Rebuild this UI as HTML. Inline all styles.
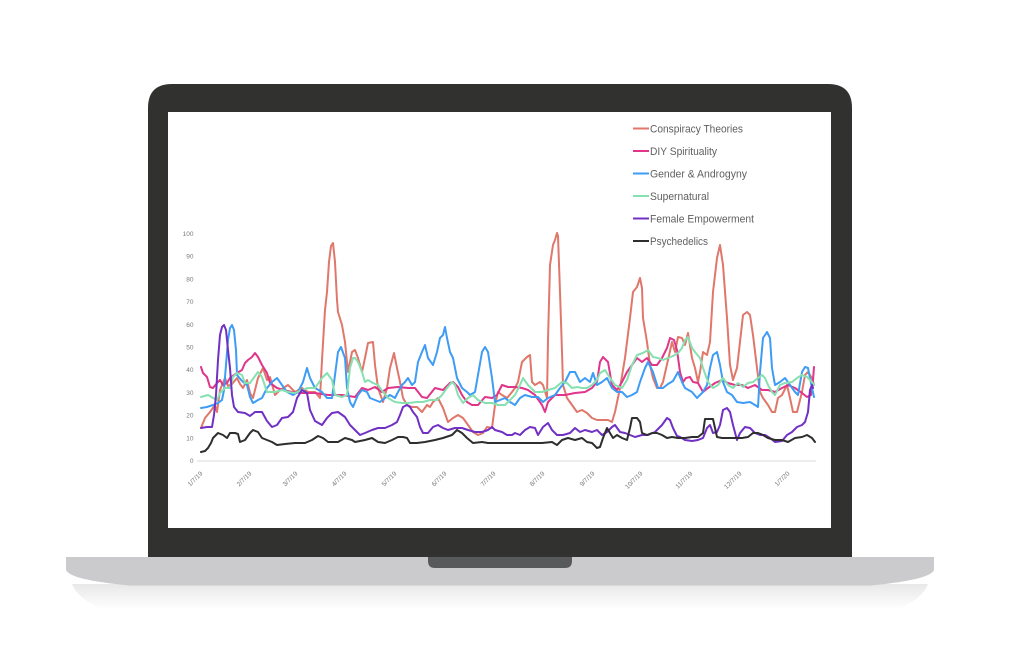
<!DOCTYPE html>
<html><head><meta charset="utf-8"><style>
html,body{margin:0;padding:0;background:#fff;width:1024px;height:648px;overflow:hidden}
svg{display:block}
text{font-family:"Liberation Sans",sans-serif}
</style></head><body>
<svg width="1024" height="648" viewBox="0 0 1024 648" xmlns="http://www.w3.org/2000/svg">
<defs>
<linearGradient id="sh" x1="0" y1="0" x2="0" y2="1"><stop offset="0" stop-color="#e8e8e8"/><stop offset="1" stop-color="#ffffff"/></linearGradient>
</defs>
<!-- shadow -->
<path d="M72,584 H928 Q922,600 895,610 H105 Q78,600 72,584 Z" fill="url(#sh)"/>
<!-- bezel -->
<path d="M148,557 V108 Q148,84 172,84 H828 Q852,84 852,108 V557 Z" fill="#31322f"/>
<rect x="168" y="112" width="663" height="416" fill="#ffffff"/>
<!-- base -->
<path d="M66,557 H934 V570 Q930,580 870,585.5 H130 Q70,580 66,570 Z" fill="#cbcbcd"/>
<path d="M428,557 H572 V561 Q572,568 565,568 H435 Q428,568 428,561 Z" fill="#58595b"/>

<!-- y labels -->
<g font-size="6.5" fill="#7a7a7a" text-anchor="end">
<text x="193.5" y="463">0</text>
<text x="193.5" y="440.3">10</text>
<text x="193.5" y="417.6">20</text>
<text x="193.5" y="394.9">30</text>
<text x="193.5" y="372.2">40</text>
<text x="193.5" y="349.5">50</text>
<text x="193.5" y="326.8">60</text>
<text x="193.5" y="304.1">70</text>
<text x="193.5" y="281.4">80</text>
<text x="193.5" y="258.7">90</text>
<text x="193.5" y="236">100</text>
</g>
<line x1="197" y1="461" x2="816" y2="461" stroke="#d9d9d9" stroke-width="1"/>
<!-- x labels -->
<g font-size="6.5" fill="#7a7a7a" text-anchor="end">
<text transform="translate(203,474) rotate(-45)">1/7/19</text>
<text transform="translate(252,474) rotate(-45)">2/7/19</text>
<text transform="translate(298,474) rotate(-45)">3/7/19</text>
<text transform="translate(347,474) rotate(-45)">4/7/19</text>
<text transform="translate(397,474) rotate(-45)">5/7/19</text>
<text transform="translate(447,474) rotate(-45)">6/7/19</text>
<text transform="translate(496,474) rotate(-45)">7/7/19</text>
<text transform="translate(545,474) rotate(-45)">8/7/19</text>
<text transform="translate(595,474) rotate(-45)">9/7/19</text>
<text transform="translate(643,474) rotate(-45)">10/7/19</text>
<text transform="translate(693,474) rotate(-45)">11/7/19</text>
<text transform="translate(742,474) rotate(-45)">12/7/19</text>
<text transform="translate(790,474) rotate(-45)">1/7/20</text>
</g>

<g fill="none" stroke-width="2" stroke-linejoin="round" stroke-linecap="round">
<polyline stroke="#e0776a" points="201,428 205,418 210,412 215,405 217,412 220,390 225,378 228,386 232,384 237,378 240,384 243,388 247,380 250,393 253,398 258,378 263,368 267,380 270,377 275,395 280,390 288,385 295,392 302,388 308,392 315,392 320,398 322,360 325,310 327,292 329,262 331,246 333,243 335,262 337,300 338,312 342,325 345,342 348,372 352,352 355,350 358,358 362,372 365,358 368,343 373,342 375,365 378,388 383,402 387,388 390,368 394,353 397,368 400,382 403,398 407,405 412,407 417,407 422,412 427,405 430,407 433,402 438,398 443,408 448,422 453,418 458,415 463,418 468,425 473,432 478,435 483,433 487,427 492,428 495,405 498,392 502,395 507,398 512,392 515,388 518,382 522,362 527,357 530,355 532,382 535,385 540,382 543,385 547,398 548,340 550,265 553,245 555,240 557,233 558,236 560,292 562,352 563,385 567,398 572,405 577,412 582,410 587,413 592,418 597,420 602,420 608,420 612,422 615,412 620,388 625,358 630,318 633,292 637,287 640,278 642,288 643,318 647,342 650,365 653,378 657,388 660,388 663,382 668,360 672,342 675,352 678,337 682,338 685,345 688,333 692,358 695,368 698,382 700,372 703,352 707,355 710,342 713,292 717,258 720,245 723,265 727,318 730,365 733,380 737,368 740,342 743,315 747,312 750,315 753,335 757,368 760,392 763,398 768,405 772,412 775,412 778,398 782,395 787,385 790,398 793,412 797,412 802,392 805,375 808,372 812,378 814,385"/>
<polyline stroke="#e0358a" points="201,367 203,373 207,377 210,387 213,388 217,383 220,380 223,385 227,383 230,378 237,373 242,370 245,363 248,360 252,357 255,353 258,357 262,365 267,373 270,383 277,388 283,390 292,392 302,393 315,393 328,395 342,395 355,397 362,388 368,390 375,387 382,392 388,388 398,387 408,388 415,388 422,397 427,398 435,388 443,390 450,383 453,382 458,387 462,395 467,402 472,405 478,405 485,397 492,398 497,395 502,385 508,387 515,387 522,388 528,390 535,395 542,405 545,412 548,402 555,395 565,395 575,393 585,392 592,388 597,382 600,362 603,357 608,362 612,385 617,390 622,382 627,372 632,365 637,358 642,362 647,358 652,365 657,365 662,358 667,348 670,338 674,340 677,350 680,372 683,382 686,378 690,377 693,382 698,383 703,392 708,388 715,383 722,380 728,383 735,385 742,385 748,388 755,385 762,390 768,390 775,392 782,388 788,385 795,388 802,393 807,397 811,395 813,380 814,367"/>
<polyline stroke="#3d9cf5" points="201,408 207,407 213,405 218,403 222,400 224,390 226,365 228,340 230,328 232,325 234,330 236,350 237,375 242,381 247,385 250,397 253,403 258,400 262,398 267,388 272,382 277,378 282,385 287,392 293,395 298,392 303,382 307,368 310,378 315,388 322,392 327,398 332,398 335,375 338,352 341,347 345,358 347,388 350,402 353,407 355,402 358,395 362,390 367,392 370,398 375,400 380,402 385,398 390,395 395,398 398,392 402,385 405,382 408,378 412,385 415,382 418,362 422,352 425,345 428,358 433,365 437,352 440,338 443,335 445,327 447,338 450,352 453,358 457,378 462,388 467,392 470,395 475,392 478,375 482,352 485,347 488,352 492,378 495,402 500,400 505,398 510,402 515,405 520,398 525,395 532,397 538,397 543,402 548,398 555,395 560,388 565,382 570,372 575,372 580,382 585,378 590,382 593,373 597,385 602,382 607,378 612,388 617,392 622,392 627,397 632,395 637,392 640,382 645,368 648,362 653,372 658,388 663,388 668,384 673,381 678,372 682,382 685,388 692,392 697,398 703,392 707,385 710,368 713,355 717,352 720,365 723,382 727,392 732,395 737,402 743,403 750,402 755,405 758,407 760,372 763,338 767,332 770,338 772,368 775,385 780,382 785,378 790,385 795,392 798,395 802,372 805,367 808,368 812,388 814,397"/>
<polyline stroke="#86e0b0" points="201,397 208,395 213,398 217,400 220,393 225,388 230,388 233,377 237,373 242,375 245,383 250,383 255,376 258,372 262,377 267,392 275,392 282,390 288,392 295,393 302,390 308,388 315,388 322,378 327,373 332,380 335,395 342,397 347,395 350,368 353,358 355,358 358,362 362,372 365,382 368,380 373,383 378,385 383,392 388,398 395,402 402,403 408,403 417,402 423,402 430,400 437,400 442,395 447,388 452,382 455,385 458,395 463,403 468,398 473,395 478,400 485,403 492,403 498,405 505,405 512,398 515,395 520,385 523,378 528,385 535,392 542,392 548,390 555,388 562,382 567,383 572,388 577,387 582,388 587,388 592,385 597,380 600,373 605,370 610,378 615,385 622,388 627,380 632,365 637,355 643,353 648,350 653,357 658,358 663,360 668,358 673,356 678,353 682,348 685,340 688,337 692,348 695,352 700,358 703,368 708,382 713,388 718,385 723,378 728,385 733,388 738,383 743,387 748,383 753,382 758,378 762,375 765,378 768,385 772,392 775,395 780,385 785,383 792,382 797,378 802,375 807,377 812,382 814,385"/>
<polyline stroke="#7130c4" points="201,428 207,427 212,427 214,415 216,395 218,360 220,335 222,327 224,325 226,330 228,350 230,368 232,395 234,407 238,412 245,413 250,416 255,412 262,412 267,421 272,427 277,425 282,418 288,417 293,412 297,398 302,390 307,393 310,410 315,421 322,425 327,418 332,413 338,412 345,417 350,425 355,430 360,435 365,433 372,430 378,428 385,428 392,425 397,422 400,415 403,407 407,405 410,407 413,412 417,417 420,427 423,433 428,433 433,427 438,425 443,428 448,430 455,428 462,428 468,430 475,432 482,432 488,430 492,427 495,430 502,432 507,435 512,435 515,433 520,435 525,430 530,427 535,428 538,435 543,427 548,423 552,430 557,435 563,435 570,433 575,428 580,432 585,430 592,432 597,430 602,435 607,432 612,427 615,425 620,432 625,433 630,435 635,437 642,435 648,435 655,432 662,425 667,418 670,420 673,428 677,436 680,437 685,440 692,441 698,440 703,438 707,428 710,425 713,433 717,432 720,425 723,410 727,408 730,412 733,425 737,440 740,433 745,427 750,428 755,433 760,435 765,435 770,438 775,442 782,441 787,435 792,432 797,427 802,425 805,422 808,412 810,390 812,385 813,388"/>
<polyline stroke="#2e2e2e" points="201,452 205,451 208,448 211,443 213,438 218,433 223,435 227,438 230,433 235,433 238,434 240,442 245,440 250,433 253,430 258,432 262,438 267,440 272,442 277,445 285,444 295,443 305,443 312,440 318,436 323,438 328,442 338,442 345,438 352,440 355,442 360,441 365,440 372,438 378,442 385,443 392,440 398,437 403,437 407,438 410,443 417,443 425,442 435,440 443,438 452,435 457,430 462,433 467,438 473,443 482,442 488,443 498,443 508,443 515,443 528,443 542,443 552,442 557,445 562,440 568,438 575,440 582,438 587,442 592,443 597,448 600,447 603,438 607,428 610,433 613,438 617,435 622,438 627,440 630,428 632,418 637,418 640,422 642,433 647,435 652,433 657,433 662,435 667,438 672,437 678,438 685,438 692,437 698,437 703,433 705,419 713,419 715,428 717,437 722,438 728,438 735,438 742,438 748,437 753,433 758,433 763,435 768,438 775,440 782,440 788,442 795,438 802,437 807,435 812,438 815,442"/>
</g>

<!-- legend -->
<g stroke-width="2">
<line x1="633" y1="128.5" x2="649" y2="128.5" stroke="#e0776a"/>
<line x1="633" y1="151" x2="649" y2="151" stroke="#e0358a"/>
<line x1="633" y1="173.5" x2="649" y2="173.5" stroke="#3d9cf5"/>
<line x1="633" y1="196" x2="649" y2="196" stroke="#86e0b0"/>
<line x1="633" y1="218.5" x2="649" y2="218.5" stroke="#7130c4"/>
<line x1="633" y1="241" x2="649" y2="241" stroke="#2e2e2e"/>
</g>
<g font-size="11" fill="#606060">
<text x="650" y="132.5" textLength="93" lengthAdjust="spacingAndGlyphs">Conspiracy Theories</text>
<text x="650" y="155" textLength="67" lengthAdjust="spacingAndGlyphs">DIY Spirituality</text>
<text x="650" y="177.5" textLength="97" lengthAdjust="spacingAndGlyphs">Gender &amp; Androgyny</text>
<text x="650" y="200" textLength="59" lengthAdjust="spacingAndGlyphs">Supernatural</text>
<text x="650" y="222.5" textLength="104" lengthAdjust="spacingAndGlyphs">Female Empowerment</text>
<text x="650" y="245" textLength="58" lengthAdjust="spacingAndGlyphs">Psychedelics</text>
</g>
</svg>
</body></html>
